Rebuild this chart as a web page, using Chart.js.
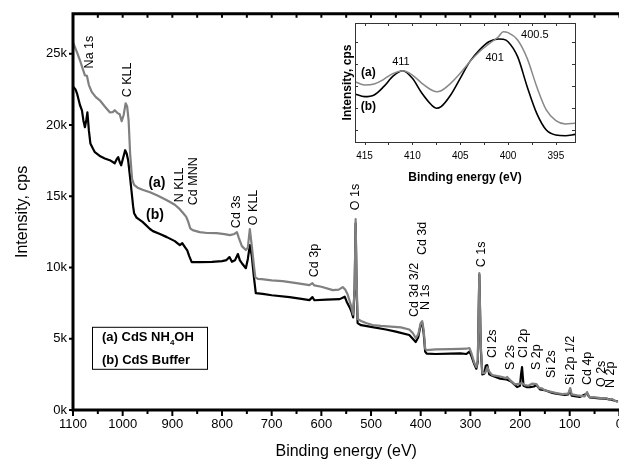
<!DOCTYPE html>
<html lang="en">
<head>
<meta charset="UTF-8" />
<title>XPS survey CdS</title>
<style>
  html, body { margin: 0; padding: 0; background: #fff; overflow: hidden; }
  #wrap { position: relative; width: 619px; height: 461px; overflow: hidden; }
  #main { position: absolute; left: 0; top: 0; }
  #inset { position: absolute; left: 335px; top: 20px; }
</style>
</head>
<body>
<div id="wrap">
  <canvas id="main" width="630" height="461"></canvas>
  <canvas id="inset" width="250" height="165"></canvas>
</div>
<script src="https://cdn.jsdelivr.net/npm/chart.js"></script>
<script>
// survey spectra, binding energy (eV) and intensity (cps)
const beA = [1100,1092,1086,1080,1076,1072,1068,1062,1054,1046,1036,1026,1020,1016,1011,1006,1002,998,994,991,988,985,981,977,970,960,945,930,911,895,885,878,872,868,864,859,845,830,811,795,784,775,770,766,760,752,748,744,740,736,733,728,720,700,678,650,624,618,614,600,577,565,557,552,547,540,536,533,531,529,527,520,510,497,480,460,440,423,416,410,405,400,397,394,391,388,370,340,320,308,302,298,292,288,285,282,279,276,270,266,262,256,240,228,226,220,210,200,196,190,183,176,167,162,155,151,145,135,127,115,103,99,96,85,70,65,61,50,40,27,20,15,10,5,3];
const intA = [25800,25100,24540,23900,23480,23450,22800,22300,21950,21730,21300,20890,20900,21030,20850,20750,20260,20700,21520,21300,20300,18000,16200,15800,15600,15450,15280,15050,14720,14400,14090,13800,13550,13200,12750,12620,12480,12420,12410,12340,12270,12350,12480,12060,11500,11220,11400,12690,11500,10200,9320,9200,9180,9100,9040,8900,8760,8900,8740,8650,8410,8450,8620,8450,8100,7300,6700,8500,13400,9000,6380,6250,6100,5960,5900,5850,5800,5650,5400,5050,5300,6100,6240,5600,4300,4200,4250,4270,4290,4300,4350,4000,3300,3010,3500,9600,4500,2590,2600,3000,2700,2450,2350,2240,2320,2100,1800,1850,1890,1750,1700,1850,1820,1550,1500,1400,1330,1250,1190,1120,1150,1540,1100,1030,950,1260,920,880,850,840,700,780,650,600,560];

const beB = [1100,1095,1092,1086,1082,1079,1076,1073,1071,1068,1065,1060,1056,1045,1036,1026,1016,1012,1009,1006,1003,999,995,992,989,986,983,979,977,972,960,945,939,925,911,895,885,880,875,870,866,861,845,820,800,791,785,780,774,768,764,760,752,748,744,740,736,732,718,700,664,640,624,618,614,590,563,556,553,549,543,539,536,533,531,529,527,520,497,470,450,423,416,410,405,400,397,394,391,388,370,340,320,308,302,298,292,288,285,282,279,276,272,269,266,262,256,240,228,218,206,200,198,196,193,187,180,172,167,160,151,147,135,127,110,103,99,96,80,65,60,40,27,15,3];
const intB = [22710,22500,22220,21400,21030,20300,19840,20400,20890,19600,18700,18350,18090,17800,17650,17530,17310,17600,17740,17400,17170,17700,18230,18000,17530,16600,15630,14300,13810,13500,13200,12700,12550,12350,12130,11850,11570,11700,11450,11200,10800,10370,10370,10400,10450,10520,10730,10400,10500,10940,10500,10300,9950,10600,11570,10800,9400,8200,8150,8050,7920,7800,7710,7920,7700,7750,7780,7900,7950,7600,7200,6870,6500,8500,13100,8500,6100,5950,5820,5650,5500,5260,5000,4770,5100,6000,6100,5400,4100,3950,3930,3950,3970,3930,4100,3800,3200,2900,3400,9500,4300,2500,2550,3100,3150,2500,2400,2200,2150,2000,1610,1700,2500,3010,1700,1610,1600,1650,1750,1450,1400,1350,1200,1150,1050,1100,1400,1000,920,1150,880,820,800,700,600];

// N 1s inset (arbitrary units)
const insetBE = [416,415,414,413,412,411,410,409,408,407.5,407,406,405,404,403,402,401,400.5,400,399,398,397,396,395,394,393];
const insetA = [50.7,47.9,48.7,52.7,57.7,59.9,56.3,49.3,43.7,42.3,43.1,49.3,57.7,67.5,75.9,82.4,88.5,92.7,91.9,85.7,70.3,46.5,26.9,17.9,15.1,15.7];
const insetB = [40.3,38.1,39.5,46.5,55.5,59.9,53.5,40.9,31.1,28.3,29.7,39.5,53.5,67.5,77.3,84.3,86.6,86.3,84.3,71.7,46.5,24.1,10.1,5.9,5.3,6.4];

const xTicksMain = [1100, 1000, 900, 800, 700, 600, 500, 400, 300, 200, 100, 0];
const yTicksMain = [0, 5000, 10000, 15000, 20000, 25000];
const insetXTicks = [415, 410, 405, 400, 395];
const insetYTicks = [10, 28.5, 47, 65.5, 84];

// peak labels: text, binding energy, intensity at start of text
const peakLabels = [
  ['Na 1s', 1066, 23970], ['C KLL', 991, 21940], ['N KLL', 885, 14580], ['Cd MNN', 857, 14370],
  ['Cd 3s', 770, 12760], ['O KLL', 736, 12970], ['Cd 3p', 614, 9320], ['O 1s', 531, 14020],
  ['Cd 3d 3/2', 413, 6520], ['N 1s', 390, 7010], ['Cd 3d', 397, 10870], ['C 1s', 278, 10020],
  ['Cl 2s', 256, 3650], ['S 2s', 220, 2800], ['Cl 2p', 193, 3650], ['S 2p', 167, 2800],
  ['Si 2s', 137, 2240], ['Si 2p 1/2', 99, 1750], ['Cd 4p', 65, 1750], ['O 2s', 35, 1610], ['N 2p', 17, 1540]
];
const curveTags = [['(a)', 931, 15910], ['(b)', 935, 13670]];
const insetTags = [['411', 411.2, 67.2, false], ['401', 401.4, 70.6, false], ['400.5', 397.2, 89.9, false], ['(a)', 414.6, 58, true], ['(b)', 414.6, 29.4, true]];

const FONT = "'Liberation Sans', Arial, sans-serif";
Chart.defaults.font.family = FONT;
Chart.defaults.color = '#000';

const toXY = (xs, ys) => xs.map((v, i) => ({ x: v, y: ys[i] }));
const fixTicks = list => s => { s.ticks = list.map(v => ({ value: v })); };

const mainDecor = {
  id: 'mainDecor',
  afterDatasetsDraw(chart) {
    const { ctx, chartArea: a, scales: { x, y } } = chart;
    ctx.save();
    ctx.strokeStyle = '#000';
    ctx.lineWidth = 3;
    ctx.beginPath();
    ctx.moveTo(a.left, a.bottom + 1.5); ctx.lineTo(a.left, a.top); ctx.lineTo(a.right + 10, a.top);
    ctx.moveTo(a.left - 1.5, a.bottom); ctx.lineTo(a.right + 10, a.bottom);
    ctx.stroke();
    ctx.lineWidth = 2;
    ctx.beginPath();
    for (let v = 0; v <= 1100; v += 50) {
      const px = x.getPixelForValue(v);
      ctx.moveTo(px, a.bottom); ctx.lineTo(px, a.bottom + (v % 100 === 0 ? 6 : 4));
      ctx.moveTo(px, a.top); ctx.lineTo(px, a.top + 4);
    }
    yTicksMain.forEach(v => {
      const py = y.getPixelForValue(v);
      ctx.moveTo(a.left, py); ctx.lineTo(a.left - 4, py);
    });
    ctx.stroke();

    // peak labels
    ctx.fillStyle = '#000';
    ctx.font = '12.5px ' + FONT;
    ctx.textAlign = 'left';
    ctx.textBaseline = 'middle';
    peakLabels.forEach(([t, be, c]) => {
      ctx.save();
      ctx.translate(x.getPixelForValue(be), y.getPixelForValue(c));
      ctx.rotate(-Math.PI / 2);
      ctx.fillText(t, 0, 0);
      ctx.restore();
    });
    ctx.font = 'bold 14px ' + FONT;
    ctx.textAlign = 'center';
    curveTags.forEach(([t, be, c]) => ctx.fillText(t, x.getPixelForValue(be), y.getPixelForValue(c)));

    // legend box
    const bx = a.left + 19, by = a.top + 313;
    ctx.fillStyle = '#fff';
    ctx.fillRect(bx, by, 115, 42);
    ctx.lineWidth = 1;
    ctx.strokeRect(bx + 0.5, by + 0.5, 115, 42);
    ctx.fillStyle = '#000';
    ctx.textAlign = 'left';
    ctx.font = 'bold 13px ' + FONT;
    let tx = bx + 10;
    ctx.fillText('(a) CdS NH', tx, by + 11);
    tx += ctx.measureText('(a) CdS NH').width;
    ctx.font = 'bold 8px ' + FONT;
    ctx.fillText('4', tx, by + 16);
    tx += ctx.measureText('4').width;
    ctx.font = 'bold 13px ' + FONT;
    ctx.fillText('OH', tx, by + 11);
    ctx.fillText('(b) CdS Buffer', bx + 10, by + 34);
    ctx.restore();
  }
};

new Chart(document.getElementById('main'), {
  type: 'line',
  data: {
    datasets: [
      { label: '(a) CdS NH4OH', data: toXY(beA, intA), borderColor: '#808080', borderWidth: 2.2 },
      { label: '(b) CdS Buffer', data: toXY(beB, intB), borderColor: '#000', borderWidth: 2.2 }
    ]
  },
  options: {
    responsive: false,
    animation: false,
    parsing: false,
    elements: { point: { radius: 0 }, line: { tension: 0, borderJoinStyle: 'round' } },
    layout: { autoPadding: false, padding: { left: 0, right: 10, top: 13, bottom: 0 } },
    plugins: { legend: { display: false }, tooltip: { enabled: false } },
    scales: {
      x: {
        type: 'linear', min: 0, max: 1100, reverse: true,
        grid: { display: false, drawTicks: false }, border: { display: false },
        afterBuildTicks: fixTicks(xTicksMain),
        ticks: { padding: 7, font: { size: 13 }, maxRotation: 0, autoSkip: false, callback: v => String(v) },
        title: { display: true, text: 'Binding energy (eV)', font: { size: 16 }, padding: 0 },
        afterFit: s => { s.height = 51; }
      },
      y: {
        type: 'linear', min: 0, max: 27800,
        grid: { display: false, drawTicks: false }, border: { display: false },
        afterBuildTicks: fixTicks(yTicksMain),
        ticks: { padding: 6, font: { size: 13 }, callback: v => v / 1000 + 'k' },
        title: { display: true, text: 'Intensity, cps', font: { size: 16 }, padding: { top: 13, bottom: 0 } },
        afterFit: s => { s.width = 73; }
      }
    }
  },
  plugins: [mainDecor]
});

const insetDecor = {
  id: 'insetDecor',
  afterDatasetsDraw(chart) {
    const { ctx, chartArea: a, scales: { x, y } } = chart;
    ctx.save();
    ctx.strokeStyle = '#333';
    ctx.lineWidth = 1;
    ctx.strokeRect(a.left + 0.5, a.top + 0.5, a.right - a.left, a.bottom - a.top);
    ctx.beginPath();
    for (let v = 395; v <= 415; v += 2.5) {
      const px = Math.round(x.getPixelForValue(v)) + 0.5;
      ctx.moveTo(px, a.bottom); ctx.lineTo(px, a.bottom + 3);
      ctx.moveTo(px, a.top); ctx.lineTo(px, a.top + 3);
    }
    insetYTicks.forEach(v => {
      const py = Math.round(y.getPixelForValue(v)) + 0.5;
      ctx.moveTo(a.left, py); ctx.lineTo(a.left + 3, py);
      ctx.moveTo(a.right, py); ctx.lineTo(a.right - 3, py);
    });
    ctx.stroke();
    ctx.fillStyle = '#000';
    ctx.textAlign = 'center';
    ctx.textBaseline = 'middle';
    insetTags.forEach(([t, be, v, bold]) => {
      ctx.font = (bold ? 'bold 12px ' : '11px ') + FONT;
      ctx.fillText(t, x.getPixelForValue(be), y.getPixelForValue(v));
    });
    ctx.restore();
  }
};

new Chart(document.getElementById('inset'), {
  type: 'line',
  data: {
    datasets: [
      { label: '(a)', data: toXY(insetBE, insetA), borderColor: '#888', borderWidth: 1.5 },
      { label: '(b)', data: toXY(insetBE, insetB), borderColor: '#000', borderWidth: 1.6 }
    ]
  },
  options: {
    responsive: false,
    animation: false,
    parsing: false,
    elements: { point: { radius: 0 }, line: { cubicInterpolationMode: 'monotone' } },
    layout: { autoPadding: false, padding: { left: 0, right: 10, top: 3, bottom: 0 } },
    plugins: { legend: { display: false }, tooltip: { enabled: false } },
    scales: {
      x: {
        type: 'linear', min: 393, max: 416, reverse: true,
        grid: { display: false, drawTicks: false }, border: { display: false },
        afterBuildTicks: fixTicks(insetXTicks),
        ticks: { padding: 8, font: { size: 10 }, maxRotation: 0 },
        title: { display: true, text: 'Binding energy (eV)', font: { size: 12, weight: 'bold' }, padding: 0 },
        afterFit: s => { s.height = 43; }
      },
      y: {
        type: 'linear', min: 0, max: 100,
        grid: { display: false, drawTicks: false }, border: { display: false },
        ticks: { display: false },
        title: { display: true, text: 'Intensity, cps', font: { size: 12, weight: 'bold' }, padding: { top: 5, bottom: 0 } },
        afterFit: s => { s.width = 20; }
      }
    }
  },
  plugins: [insetDecor]
});
</script>
</body>
</html>
